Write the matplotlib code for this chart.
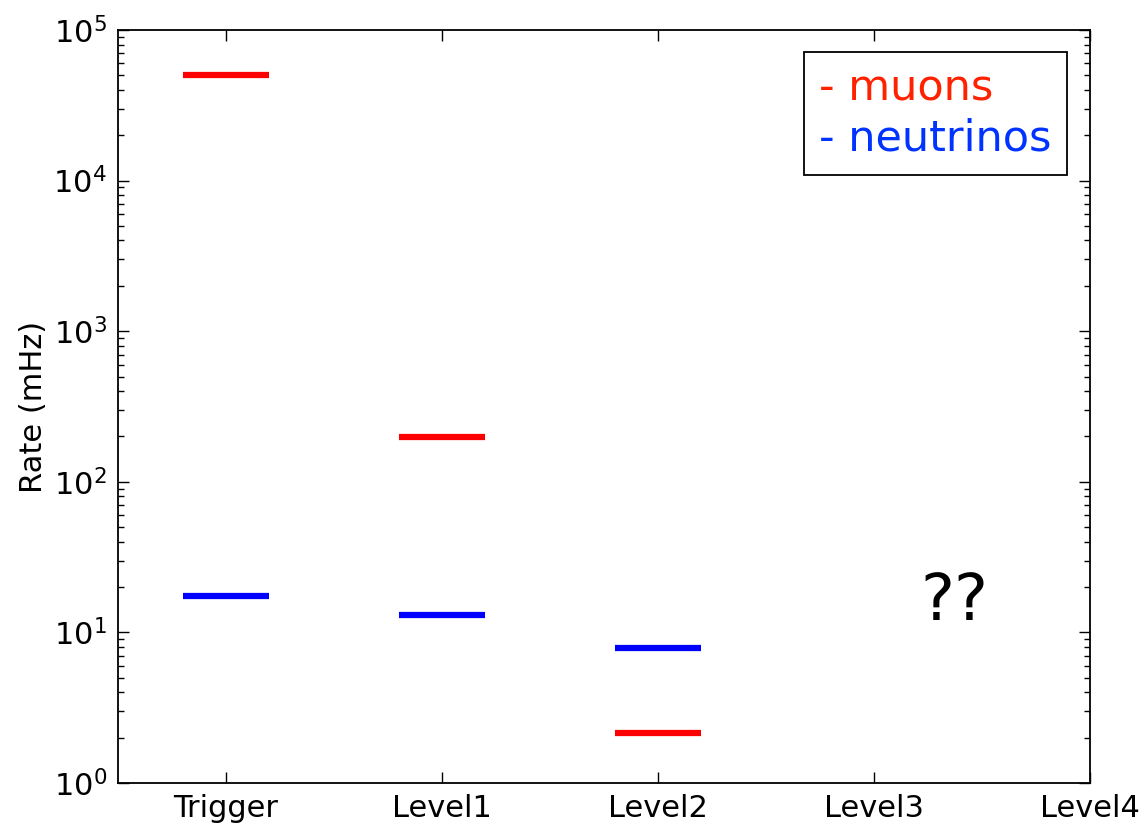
import numpy as np
import matplotlib
matplotlib.use("Agg")
import matplotlib.pyplot as plt
from matplotlib.lines import Line2D

stages = ["Trigger", "Level1", "Level2", "Level3", "Level4"]
# rates in mHz per processing stage (only the first three are known)
muon_rate = [5.0e4, 198.0, 2.15]
neutrino_rate = [17.5, 13.0, 7.9]

fig = plt.figure(figsize=(11.45, 8.23), dpi=100)
ax = fig.add_axes([0.103, 0.0486, 0.849, 0.915])

x = np.arange(len(muon_rate))
ax.hlines(muon_rate, x - 0.2, x + 0.2, colors="red", linewidth=4.5)
ax.hlines(neutrino_rate, x - 0.2, x + 0.2, colors="blue", linewidth=4.5)

ax.text(3.37, 16.0, "??", fontsize=46, ha="center", va="center")

ax.set_yscale("log")
ax.set_ylim(1, 1e5)
ax.set_xlim(-0.5, 4)
ax.set_xticks(range(len(stages)))
ax.set_xticklabels(stages)
ax.set_ylabel("Rate (mHz)", fontsize=22, labelpad=4)

ax.tick_params(which="both", direction="in", top=True, right=True, labelsize=22)
ax.tick_params(which="major", length=8, width=1)
ax.tick_params(which="minor", length=4, width=1)
ax.tick_params(axis="x", which="minor", top=False, bottom=False)
ax.tick_params(axis="x", pad=8)
ax.tick_params(axis="y", pad=8)
for s in ax.spines.values():
    s.set_linewidth(1.3)

handles = [Line2D([], [], linestyle="none"), Line2D([], [], linestyle="none")]
leg = ax.legend(handles, ["- muons", "- neutrinos"], loc="upper right",
                fontsize=31, handlelength=0, handletextpad=0,
                fancybox=False, framealpha=1, edgecolor="black",
                borderpad=0.35, labelspacing=0.2, borderaxespad=0,
                bbox_to_anchor=(0.976, 0.971))
leg.get_frame().set_linewidth(1.3)
for t, c in zip(leg.get_texts(), ["#ff2200", "#0033ff"]):
    t.set_color(c)

fig.savefig("out.png", dpi=100, facecolor="white")
